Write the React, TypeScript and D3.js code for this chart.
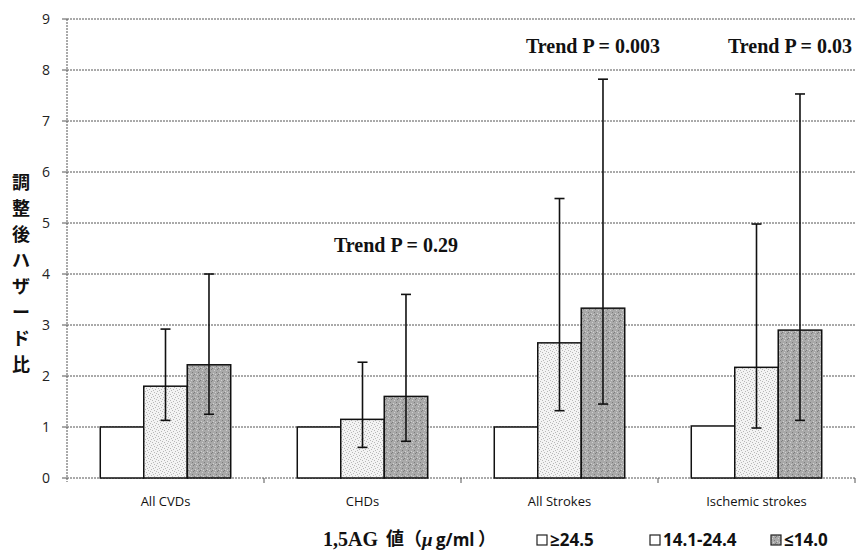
import React from "react";
import * as d3 from "d3";

const categories = ["All CVDs", "CHDs", "All Strokes", "Ischemic strokes"];
const seriesNames = ["≥24.5", "14.1-24.4", "≤14.0"];
const highValues = [1.0, 1.0, 1.0, 1.02];
const midValues = [1.8, 1.15, 2.65, 2.17];
const lowValues = [2.22, 1.6, 3.33, 2.9];
const midLower = [1.13, 0.6, 1.32, 0.98];
const midUpper = [2.92, 2.27, 5.48, 4.98];
const lowLower = [1.25, 0.72, 1.45, 1.13];
const lowUpper = [4.0, 3.6, 7.82, 7.53];
const trendCats = ["CHDs", "All Strokes", "Ischemic strokes"];
const trendTexts = ["Trend P = 0.29", "Trend P = 0.003", "Trend P = 0.03"];
const trendLevels = [4.57, 8.47, 8.47];
const yTicks = [0, 1, 2, 3, 4, 5, 6, 7, 8, 9];
const yTitle = "調整後ハザード比";

const W = 863;
const H = 553;
const margin = { top: 19, right: 8, bottom: 75, left: 67 };

export default function App() {
  const x = d3
    .scaleBand<string>()
    .domain(categories)
    .range([margin.left, W - margin.right]);
  const inner = d3
    .scaleBand<string>()
    .domain(seriesNames)
    .range([0, x.bandwidth()])
    .paddingOuter(0.765);
  const y = d3.scaleLinear().domain([0, 9]).range([H - margin.bottom, margin.top]);

  const series = [
    { name: seriesNames[0], values: highValues, fill: "#ffffff", key: "#ffffff", lo: null, hi: null },
    { name: seriesNames[1], values: midValues, fill: "url(#dotLight)", key: "#ffffff", lo: midLower, hi: midUpper },
    { name: seriesNames[2], values: lowValues, fill: "url(#dotDark)", key: "url(#dotDark)", lo: lowLower, hi: lowUpper },
  ];

  const sans = "'Open Sans', 'Noto Sans', sans-serif";
  const serif = "'Liberation Serif', 'Noto Sans CJK JP', serif";
  const cjk = "'Noto Sans CJK JP', serif";
  const x0 = margin.left;
  const x1 = W - margin.right;

  // small stipple dots for the patterned fills
  const lightDots = [[1, 1], [4, 2], [2, 4], [5, 5], [0, 3], [3, 0]];
  const darkDots = [[0, 0], [3, 1], [1, 3], [4, 4], [2, 2], [5, 2]];

  const darkCenter = (c: string) =>
    (x(c) as number) + (inner(seriesNames[2]) as number) + inner.bandwidth() / 2;

  return (
    <svg width={W} height={H} style={{ position: "absolute", left: 0, top: 0, background: "#fff" }}>
      <defs>
        <pattern id="dotLight" width="6" height="6" patternUnits="userSpaceOnUse">
          <rect width="6" height="6" fill="#f3f3f3" />
          {lightDots.map(([a, b], i) => (
            <rect key={i} x={a} y={b} width="1" height="1" fill="#b8b8b8" />
          ))}
        </pattern>
        <pattern id="dotDark" width="6" height="6" patternUnits="userSpaceOnUse">
          <rect width="6" height="6" fill="#a9a9a9" />
          {darkDots.map(([a, b], i) => (
            <rect key={i} x={a} y={b} width="1" height="1" fill={i % 2 ? "#d0d0d0" : "#7c7c7c"} />
          ))}
        </pattern>
      </defs>

      {/* grid */}
      {yTicks.map((t) => (
        <g key={t}>
          <line x1={x0} x2={x1} y1={y(t)} y2={y(t)} stroke="#555" strokeWidth={1} strokeDasharray="2,1" />
          <line x1={x0 - 5} x2={x0} y1={y(t)} y2={y(t)} stroke="#555" />
          <text x={50} y={y(t)} dy="0.35em" textAnchor="end" fontFamily={sans} fontSize={14} fill="#222">
            {t}
          </text>
        </g>
      ))}
      <line x1={x0} x2={x0} y1={y(9)} y2={y(0) + 4} stroke="#555" strokeDasharray="2,1" />
      {categories.map((c) => (
        <line key={c} x1={(x(c) as number) + x.bandwidth()} x2={(x(c) as number) + x.bandwidth()} y1={y(0)} y2={y(0) + 5} stroke="#555" />
      ))}

      {/* bars */}
      {series.map((s) =>
        categories.map((c, i) => {
          const bx = (x(c) as number) + (inner(s.name) as number);
          return (
            <rect
              key={s.name + c}
              x={bx}
              y={y(s.values[i])}
              width={inner.bandwidth()}
              height={y(0) - y(s.values[i])}
              fill={s.fill}
              stroke="#111"
              strokeWidth={1.5}
            />
          );
        })
      )}

      {/* error bars */}
      {series.map((s) =>
        s.lo
          ? categories.map((c, i) => {
              const cx = (x(c) as number) + (inner(s.name) as number) + inner.bandwidth() / 2;
              const yl = y(s.lo![i]);
              const yh = y(s.hi![i]);
              return (
                <g key={"e" + s.name + c} stroke="#111" strokeWidth={1.6}>
                  <line x1={cx} x2={cx} y1={yl} y2={yh} />
                  <line x1={cx - 5} x2={cx + 5} y1={yl} y2={yl} />
                  <line x1={cx - 5} x2={cx + 5} y1={yh} y2={yh} />
                </g>
              );
            })
          : null
      )}

      {/* category labels */}
      {categories.map((c) => (
        <text key={c} x={(x(c) as number) + x.bandwidth() / 2} y={506} textAnchor="middle" fontFamily={sans} fontSize={13} fill="#111">
          {c}
        </text>
      ))}

      {/* trend annotations */}
      {trendTexts.map((t, i) => (
        <text
          key={t}
          x={darkCenter(trendCats[i]) - 10}
          y={y(trendLevels[i])}
          dy="0.35em"
          textAnchor="middle"
          fontFamily={serif}
          fontWeight="bold"
          fontSize={20}
          fill="#111"
        >
          {t}
        </text>
      ))}

      {/* y title (vertical, upright) */}
      {Array.from(yTitle).map((ch, i) => (
        <text
          key={i}
          x={21}
          y={183 + i * 26}
          dy="0.35em"
          textAnchor="middle"
          fontFamily={cjk}
          fontWeight="bold"
          fontSize={18}
          fill="#111"
        >
          {ch}
        </text>
      ))}

      {/* legend */}
      <g fontWeight="bold" fill="#111">
        <text x={323} y={546} fontFamily={serif} fontSize={20}>1,5AG</text>
        <text x={386} y={545} fontFamily={cjk} fontSize={18}>値</text>
        <text x={404} y={545} fontFamily={cjk} fontSize={18}>（</text>
        <text x={422} y={546} fontFamily={serif} fontStyle="italic" fontSize={19}>μ</text>
        <text x={436} y={546} fontFamily={sans} fontSize={17}>g/ml</text>
        <text x={478} y={545} fontFamily={cjk} fontSize={18}>）</text>
      </g>
      {series.map((s, i) => {
        const lx = [537, 650, 771][i];
        return (
          <g key={"lg" + s.name}>
            <rect x={lx} y={535} width={10} height={10} fill={s.key} stroke="#222" strokeWidth={1.2} />
            <text x={lx + 13} y={546} fontFamily={sans} fontWeight="bold" fontSize={17} fill="#111">
              {s.name}
            </text>
          </g>
        );
      })}
    </svg>
  );
}
